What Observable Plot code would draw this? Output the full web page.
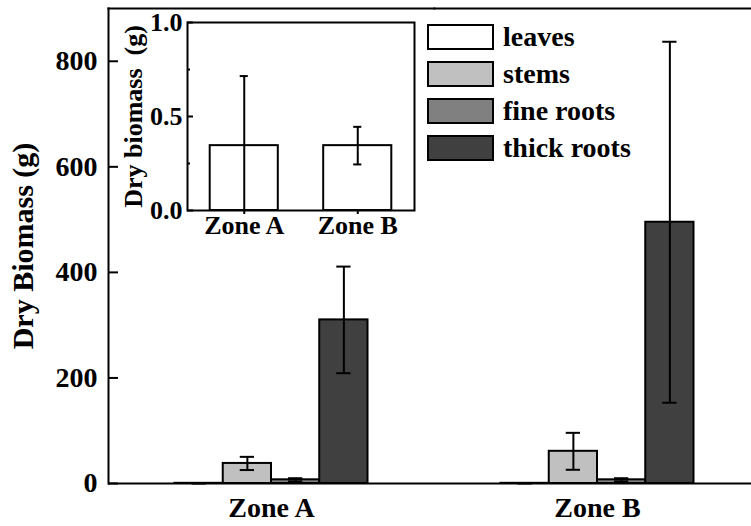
<!DOCTYPE html>
<html><head><meta charset="utf-8">
<script src="https://cdn.jsdelivr.net/npm/d3@7"></script>
<script src="https://cdn.jsdelivr.net/npm/@observablehq/plot@0.6"></script>
<style>
html,body{margin:0;padding:0;background:#fff;overflow:hidden;}
#wrap{position:relative;width:751px;height:526px;overflow:hidden;font-family:"Liberation Serif","Times New Roman",serif;font-weight:bold;}
#main,#inset{position:absolute;left:0;top:0;}
#legend{position:absolute;left:427px;top:18px;}
.row{display:flex;align-items:center;height:37px;}
.sw{width:67px;height:26px;box-sizing:border-box;border:2px solid #000;margin-right:9px;}
.lab{font-size:28px;line-height:1;color:#000;}
</style></head>
<body><div id="wrap"><div id="main"></div><div id="inset"></div><div id="legend"></div></div>
<script>
// ---- data ----
const zones = ["Zone A", "Zone B"];
const parts = ["leaves", "stems", "fine roots", "thick roots"];
const leaves = [0.345, 0.345];
const leavesErr = [0.37, 0.10];
const stems = [38, 61];
const stemsErr = [12.5, 35];
const fineRoots = [7, 7];
const fineRootsErr = [3, 3];
const thickRoots = [310, 495];
const thickRootsErr = [101, 342];
const colors = ["#ffffff", "#c0c0c0", "#808080", "#404040"];
const yTicks = [0, 200, 400, 600, 800];
const insetTicks = [0, 0.5, 1];
const insetMinorTicks = [0.25, 0.75];

const seriesVals = [leaves, stems, fineRoots, thickRoots];
const seriesErr = [leavesErr, stemsErr, fineRootsErr, thickRootsErr];
const rows = [];
zones.forEach((z, i) => parts.forEach((p, j) => rows.push({zone: z, part: p, value: seriesVals[j][i], err: seriesErr[j][i]})));
const leafRows = zones.map((z, i) => ({zone: z, value: leaves[i], err: leavesErr[i]}));

const fontFam = '"Liberation Serif","Times New Roman",serif';
const hi = d => d.value + d.err;
const lo = d => d.value - d.err;

const main = Plot.plot({
  width: 751, height: 526,
  marginLeft: 108, marginTop: 8, marginBottom: 43, marginRight: 0,
  style: {fontFamily: fontFam, fontWeight: "bold", fontSize: "28px", background: "white", color: "black"},
  fx: {domain: zones, range: [108, 760], padding: 0, label: null},
  x: {domain: parts, paddingInner: 0, paddingOuter: 1.378, round: false, axis: null},
  y: {domain: [0, 900]},
  color: {domain: parts, range: colors},
  marks: [
    Plot.frame({anchor: "top", strokeWidth: 2}),
    Plot.frame({anchor: "left", strokeWidth: 2, facetAnchor: "left"}),
    Plot.barY(rows, {fx: "zone", x: "part", y: "value", fill: "part", stroke: "black", strokeWidth: 2}),
    Plot.ruleX(rows, {fx: "zone", x: "part", y1: lo, y2: hi, stroke: "black", strokeWidth: 2}),
    Plot.tickY(rows, {fx: "zone", x: "part", y: hi, insetLeft: 17, insetRight: 17, stroke: "black", strokeWidth: 2}),
    Plot.tickY(rows, {fx: "zone", x: "part", y: lo, insetLeft: 17, insetRight: 17, stroke: "black", strokeWidth: 2}),
    Plot.ruleY([0], {stroke: "black", strokeWidth: 2}),
    Plot.axisY({ticks: yTicks, tickSize: -10, tickFormat: () => "", label: null, strokeWidth: 2}),
    Plot.axisY({ticks: yTicks, tickSize: 0, tickPadding: 11, fontSize: 28, label: null}),
    Plot.axisY({ticks: yTicks, tickSize: 0, tickFormat: () => "", fontSize: 30, label: "Dry Biomass (g)", labelAnchor: "center", labelOffset: 97, labelArrow: "none"}),
    Plot.axisFx({anchor: "bottom", tickSize: 0, tickPadding: 14, fontSize: 28, label: null})
  ]
});
document.getElementById("main").append(main);

const inset = Plot.plot({
  width: 416, height: 240,
  marginLeft: 187, marginTop: 22, marginRight: 2, marginBottom: 30,
  style: {fontFamily: fontFam, fontWeight: "bold", fontSize: "26px", background: "transparent", color: "black"},
  x: {domain: zones, paddingInner: 0.4, paddingOuter: 0.2, round: false},
  y: {domain: [0, 1]},
  marks: [
    Plot.barY(leafRows, {x: "zone", y: "value", fill: colors[0], stroke: "black", strokeWidth: 2}),
    Plot.ruleX(leafRows, {x: "zone", y1: lo, y2: hi, stroke: "black", strokeWidth: 2, clip: true}),
    Plot.tickY(leafRows, {x: "zone", y: hi, insetLeft: 30, insetRight: 30, stroke: "black", strokeWidth: 2, clip: true}),
    Plot.tickY(leafRows, {x: "zone", y: lo, insetLeft: 30, insetRight: 30, stroke: "black", strokeWidth: 2, clip: true}),
    Plot.frame({stroke: "black", strokeWidth: 2}),
    Plot.axisY({ticks: insetTicks, tickSize: -6, tickFormat: () => "", label: null, strokeWidth: 2}),
    Plot.axisY({ticks: insetMinorTicks, tickSize: -3, tickFormat: () => "", label: null, strokeWidth: 2}),
    Plot.axisY({ticks: insetTicks, tickSize: 0, tickPadding: 5, tickFormat: d3.format(".1f"), fontSize: 26, label: "Dry biomass\u00a0 (g)", labelAnchor: "center", labelOffset: 64, labelArrow: "none"}),
    Plot.axisX({tickSize: 4, tickPadding: 1, fontSize: 26, label: null, strokeWidth: 2})
  ]
});
document.getElementById("inset").append(inset);

const legend = document.getElementById("legend");
parts.forEach((p, j) => {
  const row = document.createElement("div");
  row.className = "row";
  const sw = document.createElement("div");
  sw.className = "sw";
  sw.style.background = colors[j];
  const lab = document.createElement("span");
  lab.className = "lab";
  lab.textContent = p;
  row.append(sw, lab);
  legend.append(row);
});
</script>
</body></html>
